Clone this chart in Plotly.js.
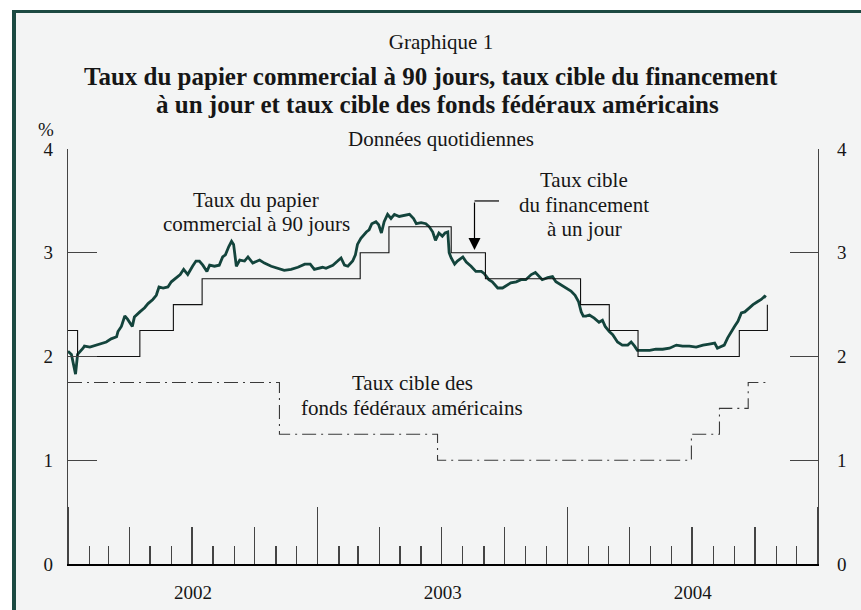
<!DOCTYPE html>
<html><head><meta charset="utf-8">
<script src="https://cdn.plot.ly/plotly-3.0.1.min.js"></script>
<style>
html,body{margin:0;padding:0;background:#fff;}
#wrap{position:relative;width:861px;height:610px;overflow:hidden;background:#fff;}
#frame{position:absolute;left:12px;top:10px;width:900px;height:700px;border-left:4px solid #1c4a42;border-top:3px solid #1c4a42;background:#f3f4f4;}
#chart{position:absolute;left:0;top:0;width:861px;height:610px;}
</style></head><body>
<div id="wrap"><div id="frame"></div><div id="chart"></div></div>
<script>
// ---- Data ----
// 90-day commercial paper rate: decimal year, percent
const cpYears = [2002.001,2002.015,2002.032,2002.041,2002.061,2002.068,2002.088,2002.115,2002.135,2002.155,2002.175,2002.195,2002.201,2002.215,2002.228,2002.241,2002.259,2002.268,2002.288,2002.308,2002.321,2002.341,2002.355,2002.365,2002.381,2002.401,2002.415,2002.435,2002.451,2002.464,2002.481,2002.499,2002.515,2002.528,2002.541,2002.557,2002.568,2002.588,2002.608,2002.621,2002.632,2002.645,2002.655,2002.665,2002.675,2002.688,2002.708,2002.721,2002.741,2002.768,2002.788,2002.815,2002.841,2002.868,2002.895,2002.921,2002.948,2002.971,2002.988,2003.021,2003.035,2003.061,2003.081,2003.095,2003.108,2003.121,2003.141,2003.152,2003.161,2003.175,2003.195,2003.208,2003.219,2003.235,2003.245,2003.255,2003.268,2003.281,2003.295,2003.308,2003.328,2003.348,2003.368,2003.384,2003.395,2003.415,2003.435,2003.448,2003.461,2003.472,2003.485,2003.501,2003.512,2003.521,2003.528,2003.535,2003.548,2003.561,2003.581,2003.595,2003.615,2003.635,2003.655,2003.668,2003.685,2003.701,2003.721,2003.741,2003.761,2003.775,2003.795,2003.815,2003.835,2003.855,2003.872,2003.885,2003.901,2003.921,2003.941,2003.955,2003.975,2003.995,2004.015,2004.032,2004.045,2004.055,2004.065,2004.075,2004.088,2004.108,2004.128,2004.141,2004.152,2004.168,2004.181,2004.201,2004.221,2004.241,2004.255,2004.268,2004.281,2004.301,2004.328,2004.355,2004.381,2004.408,2004.435,2004.461,2004.488,2004.515,2004.541,2004.568,2004.588,2004.601,2004.615,2004.628,2004.641,2004.655,2004.668,2004.681,2004.695,2004.708,2004.728,2004.741,2004.761,2004.775,2004.788,2004.795];
const cpRate = [2.05,2.02,1.83,2.02,2.08,2.10,2.09,2.11,2.13,2.14,2.17,2.19,2.24,2.29,2.39,2.36,2.29,2.38,2.43,2.47,2.51,2.55,2.59,2.67,2.66,2.67,2.72,2.76,2.79,2.84,2.79,2.87,2.92,2.92,2.88,2.82,2.88,2.87,2.88,2.96,2.98,3.06,3.11,3.08,2.87,2.93,2.92,2.96,2.90,2.93,2.90,2.87,2.85,2.83,2.84,2.86,2.89,2.89,2.84,2.86,2.85,2.88,2.92,2.95,2.88,2.87,2.92,2.98,3.08,3.14,3.20,3.22,3.28,3.30,3.27,3.19,3.30,3.37,3.33,3.37,3.35,3.36,3.37,3.33,3.28,3.29,3.28,3.25,3.20,3.12,3.19,3.16,3.19,3.20,3.00,2.95,2.89,2.92,2.96,2.91,2.87,2.82,2.82,2.80,2.74,2.72,2.66,2.66,2.69,2.71,2.72,2.74,2.74,2.79,2.81,2.77,2.74,2.76,2.77,2.72,2.69,2.66,2.63,2.59,2.53,2.43,2.39,2.39,2.40,2.37,2.33,2.35,2.29,2.24,2.21,2.14,2.11,2.11,2.14,2.10,2.06,2.06,2.06,2.07,2.07,2.08,2.11,2.10,2.10,2.09,2.11,2.12,2.13,2.08,2.10,2.11,2.18,2.24,2.29,2.34,2.42,2.43,2.47,2.50,2.53,2.55,2.58,2.57];
// Bank of Canada overnight target (step changes)
const bocDates = ['2002-01-01','2002-01-15','2002-04-16','2002-06-04','2002-07-16','2003-03-04','2003-04-15','2003-07-15','2003-09-03','2004-01-20','2004-03-02','2004-04-13','2004-09-08','2004-10-19'];
const bocRate  = [2.25,2.00,2.25,2.50,2.75,3.00,3.25,3.00,2.75,2.50,2.25,2.00,2.25,2.50];
// US federal funds target (step changes)
const fedDates = ['2002-01-01','2002-11-06','2003-06-25','2004-06-30','2004-08-10','2004-09-21','2004-10-19'];
const fedRate  = [1.75,1.25,1.00,1.25,1.50,1.75,1.75];
const yTicks = [0,1,2,3,4];
const xRange = ['2002-01-01','2005-01-01'];

function decYearToDate(t){
  const y = Math.floor(t);
  const s = Date.UTC(y,0,1), e = Date.UTC(y+1,0,1);
  return new Date(s + (t-y)*(e-s)).toISOString().slice(0,10);
}
const cpDates = cpYears.map(decYearToDate);

// ---- Geometry helpers (pixel -> paper) ----
const L=68, R=818, T=149, B=564.3;
const px = x => (x-L)/(R-L);
const py = y => (B-y)/(B-T);
const FONT = '"Liberation Serif","Times New Roman",serif';
const INK = '#161616';

const traces = [
  {x:fedDates, y:fedRate, xaxis:'x2', yaxis:'y', mode:'lines', line:{shape:'hv', color:'#3a3a3a', width:1.1, dash:'14px,5px,2px,5px'}, hoverinfo:'skip'},
  {x:bocDates, y:bocRate, xaxis:'x', yaxis:'y2', mode:'lines', line:{shape:'hv', color:'#111', width:1.1}, hoverinfo:'skip'},
  {x:cpDates, y:cpRate, xaxis:'x', yaxis:'y', mode:'lines', line:{color:'#13443c', width:2.8}, hoverinfo:'skip'}
];

function txt(text, x, y, size, extra){
  return Object.assign({text:text, x:px(x), y:py(y), xref:'paper', yref:'paper', showarrow:false,
    xanchor:'center', yanchor:'middle', font:{family:FONT, size:size, color:INK}}, extra||{});
}

const tickStyle = {tickcolor:'#444', tickwidth:1.3};
const layout = {
  width:861, height:610,
  margin:{l:68, r:43, t:149, b:45.7, pad:0},
  paper_bgcolor:'rgba(0,0,0,0)', plot_bgcolor:'rgba(0,0,0,0)',
  showlegend:false,
  font:{family:FONT, size:19, color:INK},
  title:{text:'Graphique 1', x:441/861, xref:'container', xanchor:'center', y:1-42/610, yref:'container', yanchor:'middle', font:{family:FONT, size:21, color:INK}},
  xaxis:Object.assign({type:'date', range:xRange, showgrid:false, zeroline:false, showline:true, linecolor:'#000', linewidth:2.4,
    ticks:'inside', tick0:'2002-01-01', dtick:'M3', ticklen:37, showticklabels:false, fixedrange:true,
    minor:{ticks:'inside', tick0:'2002-01-01', dtick:'M1', ticklen:18, tickcolor:'#444', tickwidth:1.3, showgrid:false}}, tickStyle),
  xaxis2:Object.assign({type:'date', overlaying:'x', anchor:'y', range:xRange, showgrid:false, zeroline:false, showline:false,
    ticks:'inside', tick0:'2002-01-01', dtick:'M12', ticklen:57, tickformat:'%Y', ticklabelmode:'period',
    tickfont:{family:FONT, size:19, color:INK}, ticklabelstandoff:15, fixedrange:true}, tickStyle),
  yaxis:Object.assign({range:[0,4], tickmode:'array', tickvals:yTicks, ticktext:yTicks.map(String), ticks:'inside', ticklen:29,
    showline:true, linecolor:'#444', linewidth:1.3, showgrid:false, zeroline:false, ticklabelstandoff:10,
    tickfont:{family:FONT, size:19, color:INK}, fixedrange:true}, tickStyle),
  yaxis2:Object.assign({range:[0,4], overlaying:'y', side:'right', anchor:'x', tickmode:'array', tickvals:yTicks, ticktext:yTicks.map(String), ticks:'inside', ticklen:28,
    showline:true, linecolor:'#444', linewidth:1.3, showgrid:false, zeroline:false, ticklabelstandoff:14,
    tickfont:{family:FONT, size:19, color:INK}, fixedrange:true}, tickStyle),
  annotations:[
    txt('<b>Taux du papier commercial à 90 jours, taux cible du financement</b>', 431, 76, 25),
    txt('<b>à un jour et taux cible des fonds fédéraux américains</b>', 437, 104.5, 25),
    txt('%', 46, 129, 19),
    txt('Données quotidiennes', 441, 139, 21),
    txt('Taux du papier', 256, 200, 21),
    txt('commercial à 90 jours', 256, 224, 21),
    txt('Taux cible', 584, 180.5, 21),
    txt('du financement', 584, 205, 21),
    txt('à un jour', 584, 229, 21),
    txt('Taux cible des', 412, 383, 21),
    txt('fonds fédéraux américains', 412, 408, 21),
    {text:'', x:px(474.5), y:py(250), xref:'paper', yref:'paper', ax:0, ay:-49, showarrow:true,
     arrowhead:2, arrowsize:2, arrowwidth:1.2, arrowcolor:'#000', standoff:0}
  ],
  shapes:[
    {type:'line', xref:'paper', yref:'paper', x0:px(474.5), x1:px(499), y0:py(201), y1:py(201), line:{color:'#000', width:1.2}}
  ]
};

Plotly.newPlot('chart', traces, layout, {displayModeBar:false, staticPlot:true});
</script></body></html>
